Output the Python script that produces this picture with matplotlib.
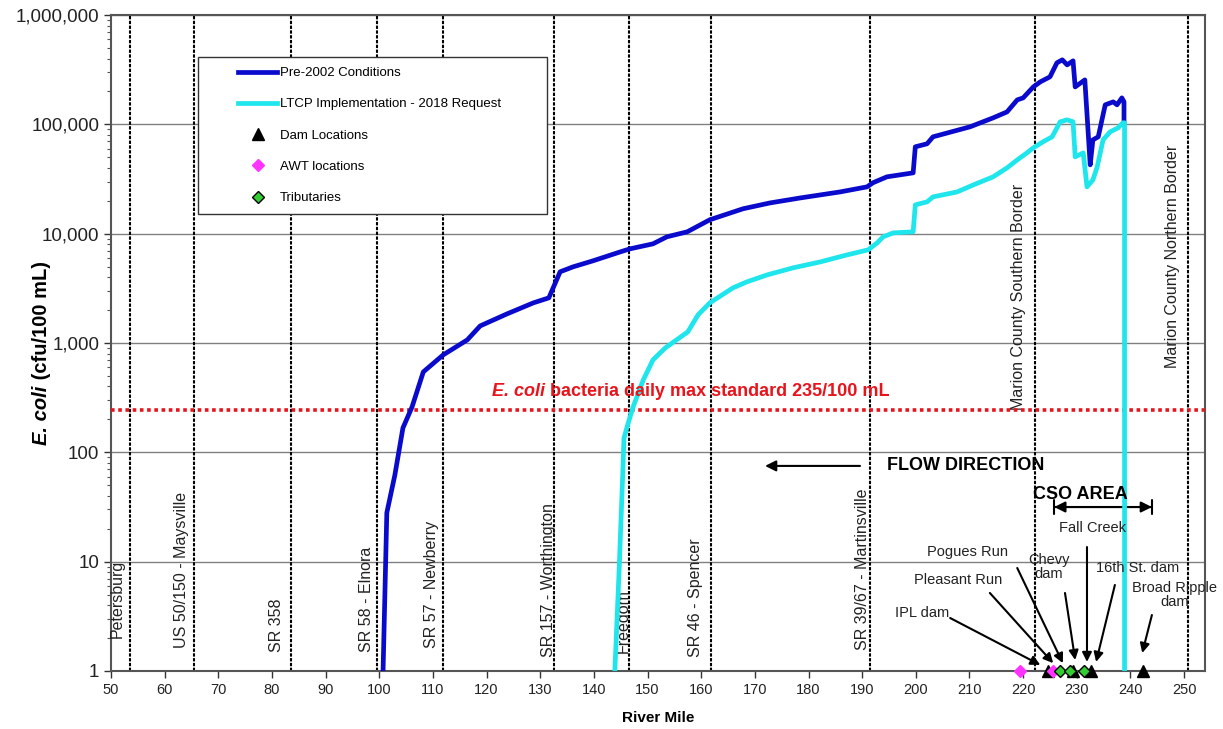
import matplotlib
matplotlib.use('Agg')
import matplotlib.pyplot as plt
from matplotlib.lines import Line2D
from matplotlib.legend_handler import HandlerLine2D
from matplotlib.ticker import FuncFormatter, LogLocator, MultipleLocator, NullFormatter

plt.rcParams['font.family'] = ['Liberation Sans', 'DejaVu Sans']

# ---------------- data ----------------
pre_mile = [100.7, 101.4, 102.9, 104.4, 106.1, 108.2, 111.9, 116.4, 118.8, 123.8, 128.7,
            131.6, 133.7, 136.1, 139.8, 144.9, 146.7, 151.0, 153.6, 157.4, 161.6, 167.8,
            172.8, 178.4, 185.9, 190.9, 192.0, 194.6, 199.5, 199.9, 202.1, 203.2, 210.1,
            214.4, 217.0, 218.9, 220.0, 221.9, 223.2, 225.0, 226.3, 227.3, 228.2, 229.3,
            229.7, 231.5, 232.5, 233.0, 234.0, 235.3, 236.8, 237.5, 238.4, 238.8, 238.8]
pre_val = [1, 28, 62, 167, 260, 544, 778, 1068, 1433, 1846, 2327,
           2588, 4480, 4970, 5640, 6810, 7260, 8070, 9360, 10400, 13400, 16900,
           19100, 21200, 24100, 26800, 29200, 33100, 36000, 62300, 66400, 76900, 94900,
           114600, 130000, 167400, 174600, 220000, 244700, 272000, 365700, 389000, 350000, 381000,
           220000, 255000, 42600, 72100, 76900, 150800, 160600, 150800, 174600, 160600, 105400]

ltcp_mile = [143.9, 144.7, 145.4, 145.6, 146.4, 147.3, 149.2, 151.0, 153.3, 157.5, 159.4,
             161.6, 165.9, 168.5, 172.3, 177.1, 182.2, 187.2, 191.1, 192.8, 193.9, 195.8,
             199.5, 199.9, 202.1, 203.2, 207.7, 210.7, 214.4, 217.0, 218.9, 220.7, 221.9,
             223.7, 225.4, 226.9, 228.2, 229.3, 229.7, 231.2, 231.9, 233.0, 233.8, 234.9,
             236.2, 237.7, 238.6, 238.9, 238.9]
ltcp_val = [1, 8.4, 69, 135, 186, 260, 459, 700, 902, 1264, 1807,
            2327, 3191, 3623, 4199, 4867, 5520, 6400, 7110, 8240, 9360, 10170,
            10400, 18360, 19540, 21700, 24100, 27900, 33100, 40000, 47300, 54800, 61000,
            69200, 76900, 105400, 110000, 105400, 50400, 54800, 26800, 31000, 40800, 72100,
            85300, 92900, 103300, 103300, 1]

landmark_mile = [53.5, 65.4, 83.5, 99.6, 111.9, 132.6, 146.6, 161.8, 191.5, 222.2, 250.7]
landmark_names = ["Petersburg", "US 50/150 - Maysville", "SR 358", "SR 58 - Elnora",
                  "SR 57 - Newberry", "SR 157 - Worthington", "Freedom", "SR 46 - Spencer",
                  "SR 39/67 - Martinsville", "Marion County Southern Border",
                  "Marion County Northern Border"]

dam_mile = [224.7, 229.3, 232.7, 242.4]
awt_mile = [219.4, 225.6]
trib_mile = [226.9, 228.7, 231.4]
marker_level = 1

standard_value = 245
standard_text = " bacteria daily max standard 235/100 mL"

annot_names = ["IPL dam", "Pleasant Run", "Pogues Run", "Chevy\ndam", "Fall Creek",
               "16th St. dam", "Broad Ripple\ndam"]
annot_target = [(223.2, 1.135), (225.6, 1.18), (227.4, 1.18), (229.7, 1.26),
                (231.9, 1.21), (233.6, 1.21), (242.2, 1.46)]

# ---------------- layout (positions only) ----------------
landmark_dx = [-2.4, -2.2, -2.6, -1.9, -2.1, -1.1, -1.2, -2.9, -1.5, -3.1, -2.9]
landmark_bottom = [2.0, 1.62, 1.49, 1.49, 1.62, 1.34, 1.45, 1.34, 1.55, 244, 592]
annot_text_xy = [(201.2, 3.40), (207.9, 6.80), (209.7, 12.3), (224.8, 8.94),
                 (232.9, 20.3), (241.4, 8.75), (248.3, 4.96)]
annot_arrow_start = [(206.4, 3.05), (213.8, 5.17), (218.9, 8.75), (227.8, 5.17),
                     (231.9, 13.6), (237.1, 6.12), (244.0, 3.25)]

fig = plt.figure(figsize=(12.23, 7.29), dpi=100)
ax = fig.add_axes([0.0908, 0.0796, 0.8945, 0.8998])

ax.set_yscale('log')
ax.set_xlim(50, 253.9)
ax.set_ylim(1, 1e6)

# horizontal grid
ax.yaxis.grid(True, which='major', color='#808080', lw=1.0)
ax.set_axisbelow(True)

# landmark lines
for m, name, dx, yb in zip(landmark_mile, landmark_names, landmark_dx, landmark_bottom):
    ax.axvline(m, color='black', ls=(0, (1.6, 0.7)), lw=1.5, zorder=2)
    ax.text(m + dx, yb, name, rotation=90, ha='center', va='bottom', fontsize=11.5,
            color='#222222', zorder=3)

# standard line
ax.axhline(standard_value, color='#e8141c', ls=(0, (1, 1)), lw=2.6, zorder=3, clip_on=False)

# series
l_pre, = ax.plot(pre_mile, pre_val, color='#0a0acd', lw=3.4, zorder=5,
                 solid_joinstyle='round', label='Pre-2002 Conditions')
l_ltcp, = ax.plot(ltcp_mile, ltcp_val, color='#1ee6ec', lw=3.4, zorder=6,
                  solid_joinstyle='round', label='LTCP Implementation - 2018 Request')
l_dam, = ax.plot(dam_mile, [marker_level] * len(dam_mile), ls='none', marker='^', ms=8.5,
                 color='black', clip_on=False, zorder=8, label='Dam Locations')
l_awt, = ax.plot(awt_mile, [marker_level] * len(awt_mile), ls='none', marker='D', ms=6.5,
                 color='#ff33ff', mec='#ff33ff', clip_on=False, zorder=9, label='AWT locations')
l_trib, = ax.plot(trib_mile, [marker_level] * len(trib_mile), ls='none', marker='D', ms=6,
                  color='#33cc33', mec='black', mew=1.0, clip_on=False, zorder=10,
                  label='Tributaries')

# annotations
arrow_kw = dict(arrowstyle='-|>', color='black', lw=1.5, mutation_scale=14, shrinkA=0, shrinkB=0)
for name, txy, sxy, exy in zip(annot_names, annot_text_xy, annot_arrow_start, annot_target):
    ax.text(txy[0], txy[1], name, ha='center', va='center', fontsize=10.5, color='#222222',
            linespacing=1.0, zorder=11, clip_on=False)
    ax.annotate('', xy=exy, xytext=sxy, arrowprops=arrow_kw, zorder=11)

# flow direction
ax.text(194.6, 75.1, "FLOW DIRECTION", ha='left', va='center', fontsize=13,
        fontweight='bold', color='black')
ax.annotate('', xy=(171.9, 75.1), xytext=(189.6, 75.1),
            arrowprops=dict(arrowstyle='-|>', color='black', lw=1.5, mutation_scale=16,
                            shrinkA=0, shrinkB=0))

# CSO area
ax.text(230.6, 40.8, "CSO AREA", ha='center', va='center', fontsize=13,
        fontweight='bold', color='black', zorder=12)
ax.annotate('', xy=(225.8, 31.6), xytext=(244.0, 31.6),
            arrowprops=dict(arrowstyle='<|-|>', color='black', lw=1.5, mutation_scale=16,
                            shrinkA=0, shrinkB=0))
ax.annotate('', xy=(225.8, 31.6), xytext=(244.0, 31.6),
            arrowprops=dict(arrowstyle='|-|, widthA=0.3, widthB=0.3', color='black', lw=1.5,
                            mutation_scale=16, shrinkA=0, shrinkB=0))

# standard label
t1 = ax.text(121.0, 357, "E. coli", ha='left', va='center', fontsize=13,
             fontweight='bold', style='italic', color='#e8141c', zorder=12)
ax.annotate(standard_text, xy=(1, 0), xycoords=t1, ha='left', va='bottom', fontsize=13,
            fontweight='bold', color='#e8141c', zorder=12)

# axes styling
ax.xaxis.set_major_locator(MultipleLocator(10))
ax.yaxis.set_major_locator(LogLocator(base=10, numticks=10))
ax.yaxis.set_minor_locator(LogLocator(base=10, subs=range(2, 10), numticks=20))
ax.yaxis.set_minor_formatter(NullFormatter())
ax.yaxis.set_major_formatter(FuncFormatter(lambda v, p: f"{v:,.0f}"))
ax.tick_params(axis='both', which='major', direction='out', length=5, width=1,
               colors='#333333', labelcolor='#222222')
ax.tick_params(axis='x', labelsize=10.5)
ax.tick_params(axis='y', labelsize=13.5)
ax.tick_params(axis='y', which='minor', direction='out', length=3, width=0.8, colors='#555555')
for s in ax.spines.values():
    s.set_color('#555555')
    s.set_linewidth(1.5)

ax.set_xlabel("River Mile", fontsize=11, fontweight='bold', labelpad=10)

y1 = ax.text(-0.064, 0.345, "E. coli", transform=ax.transAxes, rotation=90, ha='center',
             va='bottom', fontsize=14.5, fontweight='bold', style='italic', color='black')
ax.annotate(" (cfu/100 mL)", xy=(0.5, 1), xycoords=y1, rotation=90, ha='center',
            va='bottom', fontsize=14.5, fontweight='bold', color='black')

# legend
leg = ax.legend(handles=[l_pre, l_ltcp, l_dam, l_awt, l_trib],
                loc='upper left', bbox_to_anchor=(198 / 1223, 1 - 213 / 729, 349 / 1223, 156 / 729),
                bbox_transform=fig.transFigure, mode='expand', borderaxespad=0,
                fontsize=9.5, frameon=True, fancybox=False, framealpha=1,
                edgecolor='#333333', borderpad=0.76, labelspacing=1.44,
                handlelength=5.23, handletextpad=0.23, numpoints=1,
                handler_map={Line2D: HandlerLine2D(xpad=2.28)})
leg.get_frame().set_linewidth(1.0)
leg.set_zorder(20)

fig.savefig('out.png', dpi=100)
